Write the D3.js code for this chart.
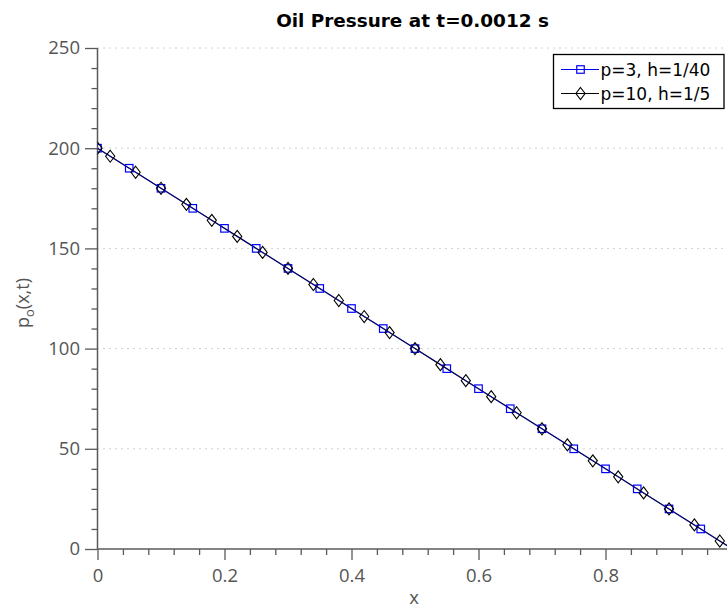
<!DOCTYPE html>
<html>
<head>
<meta charset="utf-8">
<script src="https://cdn.jsdelivr.net/npm/d3@7"></script>
<style>
  html, body { margin: 0; padding: 0; background: #fff; }
  svg { display: block; }
  text { font-family: "DejaVu Sans", sans-serif; }
  .light { font-family: "Open Sans", "DejaVu Sans", sans-serif; font-weight: 400; }
</style>
</head>
<body>
<svg id="chart" width="727" height="609"></svg>
<script>
// Oil pressure along the pipe at t = 0.0012 s for two discretisations
const xLowOrder = [0, 0.05, 0.1, 0.15, 0.2, 0.25, 0.3, 0.35, 0.4, 0.45, 0.5, 0.55, 0.6, 0.65, 0.7, 0.75, 0.8, 0.85, 0.9, 0.95, 1];
const pLowOrder = [200, 190, 180, 170, 160, 150, 140, 130, 120, 110, 100, 90, 80, 70, 60, 50, 40, 30, 20, 10, 0];

const xHighOrder = [0, 0.02, 0.06, 0.1, 0.14, 0.18, 0.22, 0.26, 0.3, 0.34, 0.38, 0.42, 0.46, 0.5, 0.54, 0.58, 0.62, 0.66, 0.7, 0.74, 0.78, 0.82, 0.86, 0.9, 0.94, 0.98, 1];
const pHighOrder = [200, 196, 188, 180, 172, 164, 156, 148, 140, 132, 124, 116, 108, 100, 92, 84, 76, 68, 60, 52, 44, 36, 28, 20, 12, 4, 0];

const seriesLabels = ["p=3, h=1/40", "p=10, h=1/5"];

const xMajorTicks = [0, 0.2, 0.4, 0.6, 0.8];
const xMinorTicks = [0.04, 0.08, 0.12, 0.16, 0.24, 0.28, 0.32, 0.36, 0.44, 0.48, 0.52, 0.56, 0.64, 0.68, 0.72, 0.76, 0.84, 0.88, 0.92, 0.96];
const yMajorTicks = [0, 50, 100, 150, 200, 250];
const yMinorTicks = [10, 20, 30, 40, 60, 70, 80, 90, 110, 120, 130, 140, 160, 170, 180, 190, 210, 220, 230, 240];

const svg = d3.select("#chart");
const W = 727, H = 609;
const plotLeft = 97.5, plotBottom = 549, plotTop = 48;

const x = d3.scaleLinear().domain([0, 1]).range([plotLeft, plotLeft + 635]);
const y = d3.scaleLinear().domain([0, 250]).range([plotBottom, plotTop]);

const axisColor = "#5a5a5a";
const labelColor = "#555";

// horizontal dotted grid
svg.append("g")
  .selectAll("line")
  .data(yMajorTicks.filter(d => d > 0))
  .join("line")
  .attr("x1", plotLeft).attr("x2", W)
  .attr("y1", d => y(d)).attr("y2", d => y(d))
  .attr("stroke", "#a0a0a0")
  .attr("stroke-width", 1)
  .attr("stroke-dasharray", "1,5");

// clip for data
svg.append("clipPath").attr("id", "plotClip")
  .append("rect").attr("x", plotLeft).attr("y", 0).attr("width", W - plotLeft).attr("height", plotBottom + 1);

// y axis: minor then major
const yAxisMinor = d3.axisLeft(y).tickValues(yMinorTicks).tickSize(6).tickFormat("");
const yAxisMajor = d3.axisLeft(y).tickValues(yMajorTicks).tickSize(12.5).tickPadding(5).tickFormat(d3.format("d"));
const gyMinor = svg.append("g").attr("transform", `translate(${plotLeft},0)`).call(yAxisMinor);
const gy = svg.append("g").attr("transform", `translate(${plotLeft},0)`).call(yAxisMajor);

// x axis
const xAxisMinor = d3.axisBottom(x).tickValues(xMinorTicks).tickSize(6).tickFormat("");
const xAxisMajor = d3.axisBottom(x).tickValues(xMajorTicks).tickSize(11).tickPadding(9)
  .tickFormat(d => d === 0 ? "0" : d3.format(".1f")(d));
const gxMinor = svg.append("g").attr("transform", `translate(0,${plotBottom})`).call(xAxisMinor);
const gx = svg.append("g").attr("transform", `translate(0,${plotBottom})`).call(xAxisMajor);

[gyMinor, gy, gxMinor, gx].forEach(g => {
  g.selectAll(".domain").remove();
  g.selectAll(".tick line").attr("stroke", axisColor).attr("stroke-width", 1.3);
  g.selectAll(".tick text").attr("fill", labelColor).attr("font-size", 18.5)
    .attr("class", "light")
    .style("font-family", "'Open Sans', 'DejaVu Sans', sans-serif")
    .style("font-weight", 400);
});

// axis lines
svg.append("line").attr("x1", plotLeft).attr("x2", plotLeft).attr("y1", plotTop).attr("y2", plotBottom)
  .attr("stroke", axisColor).attr("stroke-width", 1.5);
svg.append("line").attr("x1", plotLeft).attr("x2", W).attr("y1", plotBottom).attr("y2", plotBottom)
  .attr("stroke", axisColor).attr("stroke-width", 1.5);

// series
const plot = svg.append("g").attr("clip-path", "url(#plotClip)");
const line = d3.line().x(d => x(d[0])).y(d => y(d[1]));

const lowData = xLowOrder.map((v, i) => [v, pLowOrder[i]]);
const highData = xHighOrder.map((v, i) => [v, pHighOrder[i]]);

plot.append("path").datum(highData).attr("d", line)
  .attr("fill", "none").attr("stroke", "#000").attr("stroke-width", 1.2);
plot.append("path").datum(lowData).attr("d", line)
  .attr("fill", "none").attr("stroke", "#0000ff").attr("stroke-width", 1.1).attr("stroke-opacity", 0.5);

const sq = 7.5;
function squareMarker(g, cx, cy) {
  g.append("rect").attr("x", cx - sq / 2).attr("y", cy - sq / 2).attr("width", sq).attr("height", sq)
    .attr("fill", "none").attr("stroke", "#0000ff").attr("stroke-width", 1.2);
}
function diamondMarker(g, cx, cy) {
  const hw = 4.6, hh = 6;
  g.append("path")
    .attr("d", `M${cx},${cy - hh}L${cx + hw},${cy}L${cx},${cy + hh}L${cx - hw},${cy}Z`)
    .attr("fill", "none").attr("stroke", "#000").attr("stroke-width", 1.1);
}

lowData.forEach(d => squareMarker(plot, x(d[0]), y(d[1])));
highData.forEach(d => diamondMarker(plot, x(d[0]), y(d[1])));

// title
svg.append("text").attr("x", 412.5).attr("y", 27).attr("text-anchor", "middle")
  .attr("font-size", 18.4).attr("font-weight", "bold").attr("fill", "#000")
  .text("Oil Pressure at t=0.0012 s");

// axis labels
svg.append("text").attr("class", "light").attr("x", 414).attr("y", 604).attr("text-anchor", "middle")
  .attr("font-size", 18.5).attr("fill", labelColor).text("x");

const yl = svg.append("text").attr("class", "light")
  .attr("transform", `translate(29,303) rotate(-90)`)
  .attr("text-anchor", "middle").attr("font-size", 18).attr("fill", labelColor);
yl.append("tspan").text("p");
yl.append("tspan").attr("font-size", 13).attr("dy", 5).text("o");
yl.append("tspan").attr("dy", -5).text("(x,t)");

// legend
const lg = svg.append("g");
lg.append("rect").attr("x", 553.5).attr("y", 54.5).attr("width", 170.5).attr("height", 54)
  .attr("fill", "#fff").attr("stroke", "#000").attr("stroke-width", 1.3);
const rows = [
  { label: seriesLabels[0], color: "#0000ff", marker: squareMarker, yy: 69.5 },
  { label: seriesLabels[1], color: "#000", marker: diamondMarker, yy: 93.5 }
];
rows.forEach(r => {
  lg.append("line").attr("x1", 561).attr("x2", 599).attr("y1", r.yy).attr("y2", r.yy)
    .attr("stroke", r.color).attr("stroke-width", 1.1);
  r.marker(lg, 580.5, r.yy);
  lg.append("text").attr("x", 600.5).attr("y", r.yy + 6).attr("font-size", 17).attr("fill", "#000")
    .text(r.label);
});
</script>
</body>
</html>
